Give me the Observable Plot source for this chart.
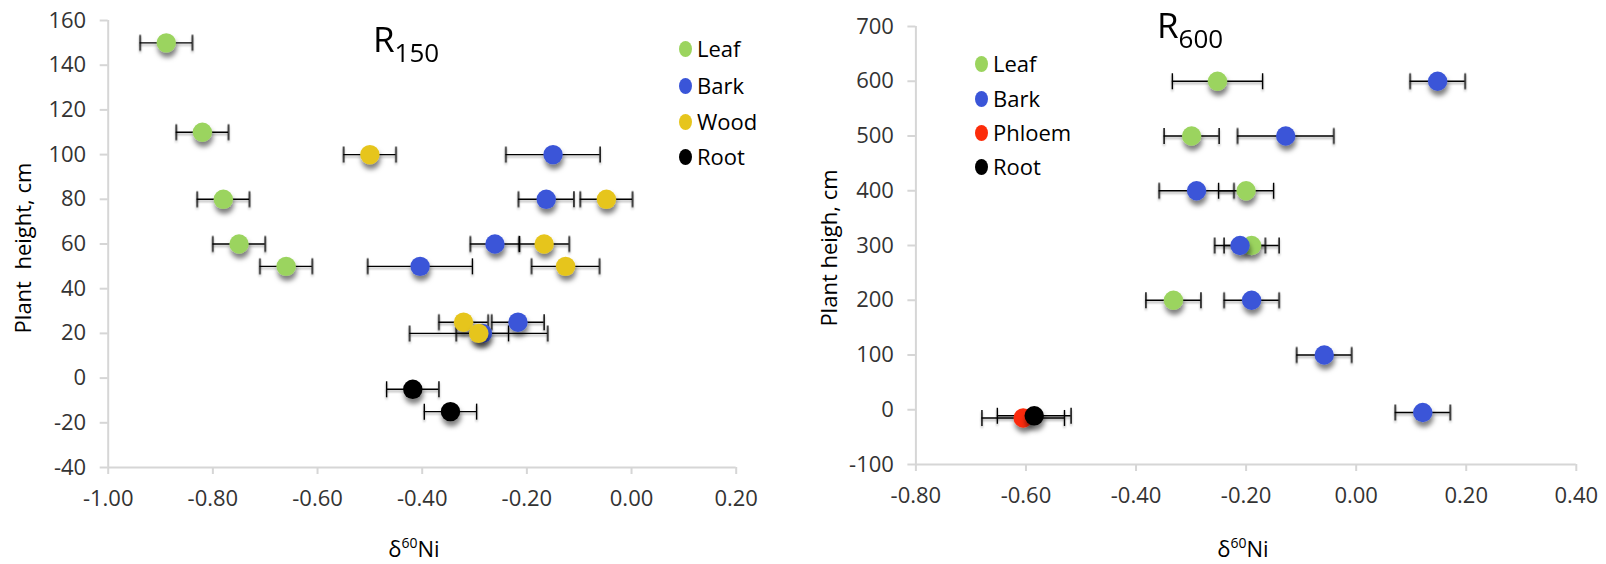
<!DOCTYPE html>
<html><head><meta charset="utf-8">
<script src="https://cdn.jsdelivr.net/npm/d3@7"></script>
<script src="https://cdn.jsdelivr.net/npm/@observablehq/plot@0.6"></script>
<style>
body{margin:0;background:#fff;}
#root{position:relative;width:1606px;height:564px;font-family:"Open Sans",sans-serif;color:#000;overflow:hidden;background:#fff}
.abs{position:absolute;white-space:nowrap;line-height:1}
svg{position:absolute;top:0}
</style></head><body><div id="root"></div>
<script>
// ---------- DATA (δ60Ni value d, plant height h, error e) ----------
const r150Leaf = [
  {d:-0.889, h:150, e:0.05}, {d:-0.82, h:110, e:0.05}, {d:-0.78, h:80, e:0.05},
  {d:-0.75, h:60, e:0.05}, {d:-0.66, h:50, e:0.05}
];
const r150Bark = [
  {d:-0.15, h:100, e:0.09}, {d:-0.163, h:80, e:0.053}, {d:-0.261, h:60, e:0.047},
  {d:-0.404, h:50, e:0.10}, {d:-0.217, h:25, e:0.05}, {d:-0.285, h:20, e:0.05}
];
const r150Wood = [
  {d:-0.50, h:100, e:0.05}, {d:-0.048, h:80, e:0.05}, {d:-0.167, h:60, e:0.048},
  {d:-0.126, h:50, e:0.065}, {d:-0.321, h:25, e:0.047}, {d:-0.292, h:20, e:0.132}
];
const r150Root = [
  {d:-0.418, h:-5, e:0.05}, {d:-0.346, h:-15, e:0.05}
];

const r600Leaf = [
  {d:-0.252, h:600, e:0.082}, {d:-0.299, h:500, e:0.05}, {d:-0.20, h:400, e:0.05},
  {d:-0.19, h:300, e:0.05}, {d:-0.332, h:200, e:0.05}
];
const r600Bark = [
  {d:0.148, h:600, e:0.05}, {d:-0.128, h:500, e:0.0875}, {d:-0.29, h:400, e:0.068},
  {d:-0.211, h:300, e:0.046}, {d:-0.19, h:200, e:0.05}, {d:-0.058, h:100, e:0.05},
  {d:0.121, h:-5, e:0.05}
];
const r600Phloem = [ {d:-0.605, h:-15, e:0.075} ];
const r600Root = [ {d:-0.585, h:-11, e:0.067} ];

const r150XTicks = [-1.0, -0.8, -0.6, -0.4, -0.2, 0.0, 0.2];
const r150YTicks = [-40, -20, 0, 20, 40, 60, 80, 100, 120, 140, 160];
const r600XTicks = [-0.8, -0.6, -0.4, -0.2, 0.0, 0.2, 0.4];
const r600YTicks = [-100, 0, 100, 200, 300, 400, 500, 600, 700];

const colors = {Leaf:"#9bd45e", Bark:"#3a55d8", Wood:"#e6c51c", Phloem:"#fc2c0a", Root:"#000000"};

// ---------- CHART ----------
const root = document.getElementById("root");
const capSymbol = {draw(ctx){ ctx.moveTo(0,-8); ctx.lineTo(0,8); }};

function makeChart(cfg){
  const marks = [
    Plot.ruleX([cfg.xDomain[0]], {stroke:"#d6d6d6", strokeWidth:2}),
    Plot.ruleY([cfg.yDomain[0]], {stroke:"#d6d6d6", strokeWidth:2}),
    Plot.axisX({ticks:cfg.xTicks, tickSize:7, tickPadding:16, tickFormat:d=>d.toFixed(2),
      stroke:"#d6d6d6", strokeWidth:2, color:"#333", label:null}),
    Plot.axisY({ticks:cfg.yTicks, tickSize:8, tickPadding:14, tickFormat:d=>String(d),
      stroke:"#d6d6d6", strokeWidth:2, color:"#333", label:null})
  ];
  for (const s of cfg.series){
    marks.push(Plot.ruleY(s.data, {y:"h", x1:d=>d.d-d.e, x2:d=>d.d+d.e, stroke:"black", strokeWidth:1.4}));
    marks.push(Plot.dot(s.data, {x:d=>d.d-d.e, y:"h", symbol:capSymbol, stroke:"black", strokeWidth:1.4, fill:"none"}));
    marks.push(Plot.dot(s.data, {x:d=>d.d+d.e, y:"h", symbol:capSymbol, stroke:"black", strokeWidth:1.4, fill:"none"}));
  }
  for (const s of cfg.series){
    marks.push(Plot.dot(s.data, {x:"d", y:"h", r:9.7, fill:colors[s.name], stroke:"none"}));
  }
  const svg = Plot.plot({
    width:cfg.width, height:564,
    marginLeft:cfg.mL, marginRight:cfg.mR, marginTop:cfg.mT, marginBottom:cfg.mB,
    x:{domain:cfg.xDomain}, y:{domain:cfg.yDomain},
    style:{fontFamily:"'Open Sans', sans-serif", fontSize:"22px", background:"transparent", overflow:"visible"},
    marks
  });
  const s = d3.select(svg);
  const defs = s.insert("defs", ":first-child");
  const mk = (id, dx, dy, sd, op) => defs.append("filter").attr("id", id)
    .attr("filterUnits","userSpaceOnUse").attr("x",-50).attr("y",-50)
    .attr("width",cfg.width+100).attr("height",664)
    .append("feDropShadow").attr("dx",dx).attr("dy",dy).attr("stdDeviation",sd)
    .attr("flood-color","#000").attr("flood-opacity",op);
  mk(cfg.id+"dot", 1, 5, 2.6, 0.5);
  mk(cfg.id+"bar", 0, 2, 1, 0.35);
  s.selectAll("circle").attr("filter", `url(#${cfg.id}dot)`);
  s.selectAll('g[stroke="black"]').attr("filter", `url(#${cfg.id}bar)`);
  svg.style.left = cfg.left + "px";
  root.appendChild(svg);
}

makeChart({id:"a", left:0, width:790, mL:107.7, mR:54.3, mT:20, mB:97,
  xDomain:[-1,0.2], yDomain:[-40,160], xTicks:r150XTicks, yTicks:r150YTicks,
  series:[{name:"Leaf",data:r150Leaf},{name:"Bark",data:r150Bark},{name:"Wood",data:r150Wood},{name:"Root",data:r150Root}]});
makeChart({id:"b", left:790, width:816, mL:125.4, mR:30.2, mT:26, mB:100,
  xDomain:[-0.8,0.4], yDomain:[-100,700], xTicks:r600XTicks, yTicks:r600YTicks,
  series:[{name:"Leaf",data:r600Leaf},{name:"Bark",data:r600Bark},{name:"Phloem",data:r600Phloem},{name:"Root",data:r600Root}]});

// ---------- TEXT ----------
const ASC = 0.888; // Open Sans baseline offset at line-height 1
function text(html, x, baseline, size, anchor="start"){
  const el = document.createElement("div");
  el.className = "abs";
  el.style.fontSize = size + "px";
  el.style.left = x + "px";
  el.style.top = (baseline - ASC*size) + "px";
  if (anchor === "middle") el.style.transform = "translateX(-50%)";
  el.innerHTML = html;
  root.appendChild(el);
  return el;
}
function vtext(str, cx, cy, size){
  const el = document.createElement("div");
  el.className = "abs";
  el.style.fontSize = size + "px";
  el.style.left = cx + "px";
  el.style.top = cy + "px";
  el.style.transform = "translate(-50%,-50%) rotate(-90deg)";
  el.textContent = str;
  root.appendChild(el);
}
// titles
text('R<span style="font-size:26px;position:relative;top:10px">150</span>', 373, 52, 35);
text('R<span style="font-size:26px;position:relative;top:10px">600</span>', 1157, 38, 35);
// axis titles
const dNi = 'δ<span style="font-size:14px;position:relative;top:-9px">60</span>Ni';
text(dNi, 414, 557, 22, "middle");
text(dNi, 1243, 557, 22, "middle");
vtext("Plant\u00a0\u00a0height, cm", 22, 248, 22);
vtext("Plant heigh, cm", 828, 248, 22);
// legends
function legend(items, mx, ys){
  items.forEach((name, i) => {
    const m = document.createElement("span");
    m.style.cssText = `position:absolute;left:${mx-6.5}px;top:${ys[i]-8}px;width:13px;height:16px;border-radius:50%;background:${colors[name]}`;
    root.appendChild(m);
    text(name, mx+12, ys[i]+7.9, 22);
  });
}
legend(["Leaf","Bark","Wood","Root"], 685, [49, 85.5, 121.5, 157]);
legend(["Leaf","Bark","Phloem","Root"], 981, [64, 98.5, 132.5, 166.5]);
</script></body></html>
